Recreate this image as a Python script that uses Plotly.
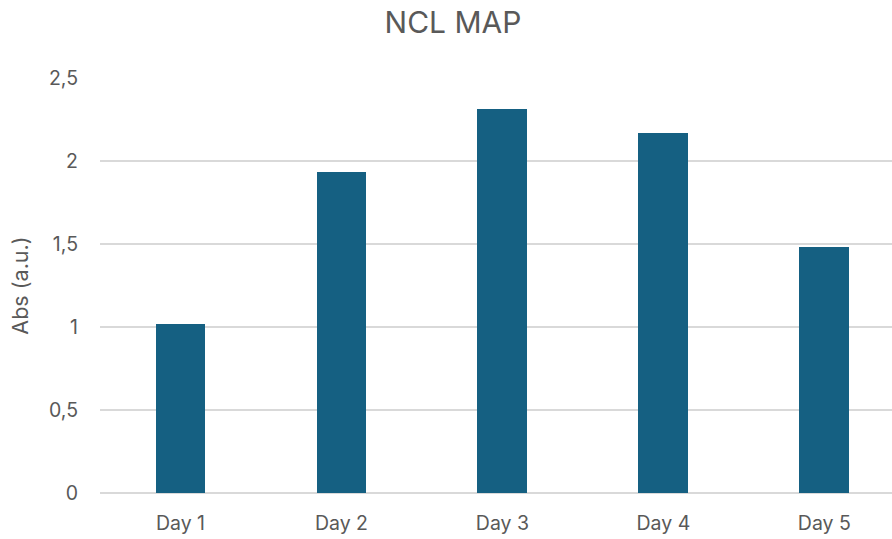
import plotly.graph_objects as go

# Daily absorbance readings
days = ["Day 1", "Day 2", "Day 3", "Day 4", "Day 5"]
absorbance = [1.02, 1.933, 2.315, 2.167, 1.483]
y_ticks = [0, 0.5, 1, 1.5, 2, 2.5]
y_tick_labels = ["0", "0,5", "1", "1,5", "2", "2,5"]

text_color = "#595959"
grid_color = "#d9d9d9"
font_family = "Inter, Roboto, sans-serif"

fig = go.Figure(
    go.Bar(
        x=list(range(len(days))),
        y=absorbance,
        marker=dict(color="#156082", line=dict(width=0)),
        width=0.31,
    )
)

fig.update_layout(
    width=892,
    height=539,
    paper_bgcolor="white",
    plot_bgcolor="white",
    margin=dict(l=100, r=0, t=78, b=46),
    font=dict(family=font_family, color=text_color, size=19),
    title=dict(
        text="NCL MAP",
        x=453 / 892,
        xanchor="center",
        y=1 - 22 / 539,
        yanchor="middle",
        font=dict(size=30, color=text_color, family=font_family),
    ),
    showlegend=False,
    bargap=0,
)

fig.update_xaxes(
    tickvals=list(range(len(days))),
    ticktext=days,
    range=[-0.5, 4.42],
    showgrid=False,
    showline=False,
    zeroline=False,
    ticks="",
    ticklabelstandoff=16,
    tickfont=dict(size=19.5, color=text_color),
)

fig.update_yaxes(
    range=[0, 2.5],
    tickvals=y_ticks,
    ticktext=y_tick_labels,
    showgrid=True,
    gridcolor=grid_color,
    gridwidth=1.5,
    zeroline=True,
    zerolinecolor=grid_color,
    zerolinewidth=1.5,
    showline=False,
    ticks="",
    ticklabelstandoff=21,
    tickfont=dict(size=19.5, color=text_color),
    title=dict(text="Abs (a.u.)", font=dict(size=21.5, color=text_color), standoff=14),
)

fig.write_html("out.html")
